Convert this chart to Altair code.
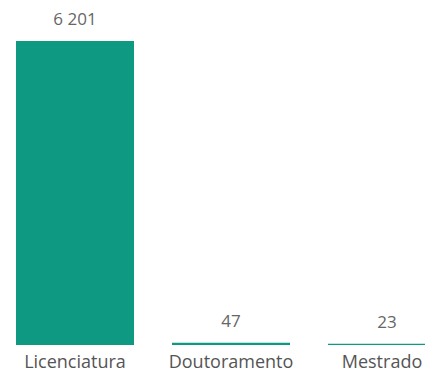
import altair as alt
import pandas as pd

categories = ["Licenciatura", "Doutoramento", "Mestrado"]
values = [6201, 47, 23]
labels = [f"{v:,}".replace(",", " ") for v in values]

df = pd.DataFrame({"cat": categories, "val": values, "lab": labels})

x = alt.X("cat:N", sort=categories, title=None,
          scale=alt.Scale(range=[0, 446], paddingInner=0.2436, paddingOuter=0.0513),
          axis=alt.Axis(labelAngle=0, domain=False, ticks=False, labelPadding=8,
                        labelBaseline="top",
                        labelOffset={"condition": {"test": "datum.value == 'Mestrado'", "value": -5},
                                     "value": 0},
                        labelFontSize=18, labelColor="#555555", labelFont="Open Sans"))
y = alt.Y("val:Q", title=None, scale=alt.Scale(domain=[0, 6874], nice=False), axis=None)

bars = alt.Chart(df).mark_bar(color="#0E9A82").encode(x=x, y=y)
text = alt.Chart(df).mark_text(baseline="alphabetic", dy=-16, fontSize=17, color="#666666",
                               font="Open Sans").encode(x=x, y=y, text="lab:N")

chart = (bars + text).properties(
    width=417, height=337,
    autosize=alt.AutoSizeParams(type="none"),
    padding={"left": 0, "top": 0, "right": 0, "bottom": 27},
).configure_view(stroke=None)
chart.save("out.html", embed_options={"renderer": "svg", "actions": False})
